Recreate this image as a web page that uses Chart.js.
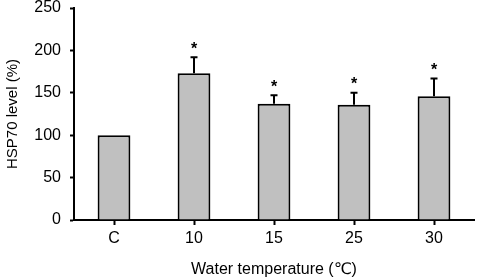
<!DOCTYPE html>
<html>
<head>
<meta charset="utf-8">
<script src="https://cdn.jsdelivr.net/npm/chart.js@4"></script>
<style>
  html, body { margin: 0; padding: 0; background: #fff; }
  #wrap { width: 481px; height: 279px; }
</style>
</head>
<body>
<div id="wrap"><canvas id="chart" width="481" height="279"></canvas></div>
<script>
// valores
const categories = ['C', '10', '15', '25', '30'];
const hspLevel = [100, 173, 137, 136, 146];
const hspError = [0, 19, 10, 14, 21];
const significant = [false, true, true, true, true];
const yTicks = [0, 50, 100, 150, 200, 250];

const FONT = "'Liberation Sans', Arial, 'DejaVu Sans', sans-serif";

// barras de erro + asteriscos
const errorBarPlugin = {
    id: 'errorBars',
    afterDatasetsDraw(chart) {
        const ctx = chart.ctx;
        const y = chart.scales.y;
        const meta = chart.getDatasetMeta(0);
        ctx.save();
        ctx.strokeStyle = '#000';
        ctx.lineWidth = 2;
        meta.data.forEach((bar, i) => {
            const top = y.getPixelForValue(hspLevel[i]);
            const errTop = y.getPixelForValue(hspLevel[i] + hspError[i]);
            if (hspError[i] > 0) {
                ctx.beginPath();
                ctx.moveTo(bar.x, top);
                ctx.lineTo(bar.x, errTop);
                ctx.moveTo(bar.x - 3.5, errTop);
                ctx.lineTo(bar.x + 3.5, errTop);
                ctx.stroke();
            }
            if (significant[i]) {
                ctx.fillStyle = '#000';
                ctx.font = 'bold 16px ' + FONT;
                ctx.textAlign = 'center';
                ctx.textBaseline = 'middle';
                ctx.fillText('*', bar.x, errTop - 8);
            }
        });
        ctx.restore();
    }
};

new Chart(document.getElementById('chart'), {
    type: 'bar',
    data: {
        labels: categories,
        datasets: [{
            data: hspLevel,
            backgroundColor: '#c0c0c0',
            borderColor: '#000',
            borderWidth: 2,
            categoryPercentage: 1,
            barPercentage: 0.41
        }]
    },
    options: {
        responsive: false,
        animation: false,
        layout: { padding: { top: 8, right: 7, left: 4, bottom: 0 } },
        plugins: { legend: { display: false }, tooltip: { enabled: false } },
        scales: {
            x: {
                grid: { display: true, offset: false, drawOnChartArea: false, tickLength: 5, tickColor: '#000', tickWidth: 2 },
                border: { color: '#000', width: 2 },
                ticks: { color: '#000', font: { size: 16, family: FONT }, padding: 4 },
                title: { display: true, text: 'Water temperature (℃)', color: '#000', font: { size: 16, family: FONT }, padding: { top: 1, bottom: 0 } },
                afterFit: s => { s.height = 59; s.paddingLeft = 0; s.paddingRight = 0; }
            },
            y: {
                min: 0,
                max: 250,
                afterBuildTicks: s => { s.ticks = yTicks.map(v => ({ value: v })); },
                grid: { display: true, drawOnChartArea: false, tickLength: 4, tickColor: '#000', tickWidth: 2 },
                border: { color: '#000', width: 2 },
                ticks: { color: '#000', font: { size: 16, family: FONT }, padding: 9 },
                title: { display: true, text: 'HSP70 level (%)', color: '#000', font: { size: 15, family: FONT }, padding: { top: 0, bottom: 2 } },
                afterFit: s => { s.width = 70; s.paddingTop = 0; s.paddingBottom = 0; }
            }
        }
    },
    plugins: [errorBarPlugin]
});
</script>
</body>
</html>
